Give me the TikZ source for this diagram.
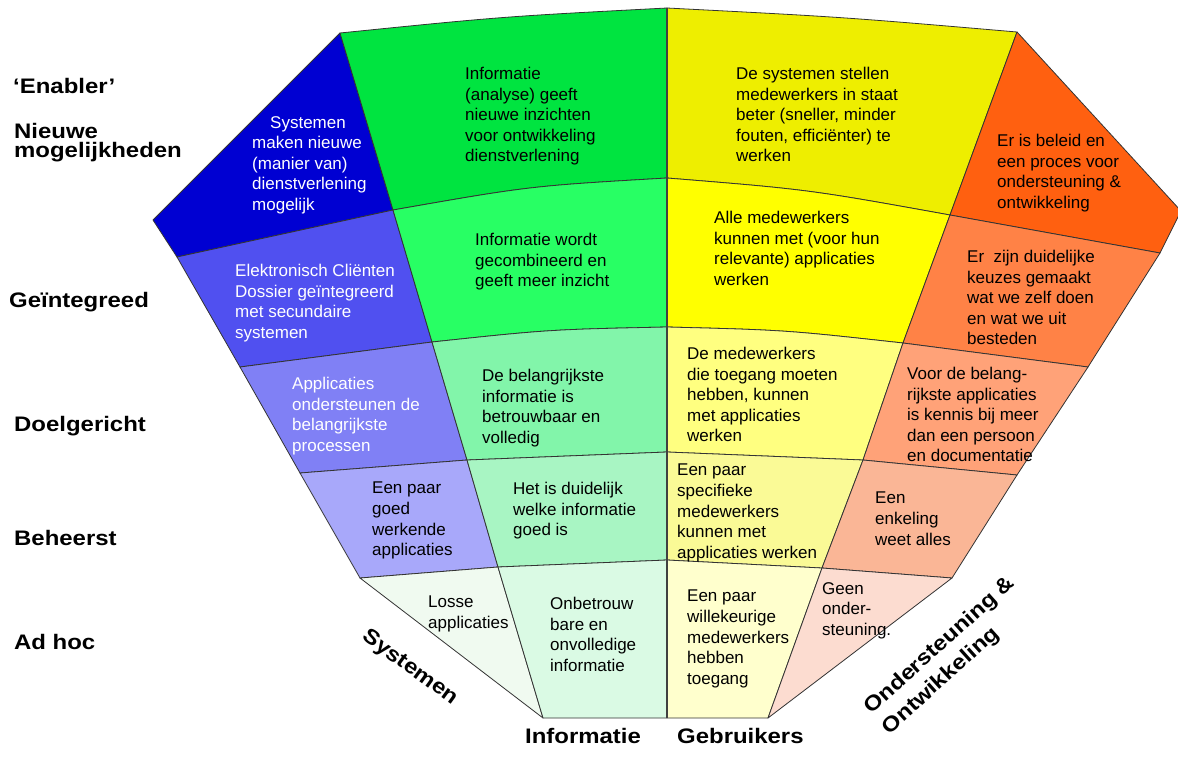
\documentclass[tikz,border=0pt]{standalone}
\usepackage{fontspec}
\setmainfont{Liberation Sans}
\newfontfamily\lblfont[FakeStretch=1.14]{Liberation Sans}
\usetikzlibrary{calc}
\definecolor{bA}{RGB}{0,0,210}
\definecolor{bB}{RGB}{80,80,240}
\definecolor{bC}{RGB}{128,128,245}
\definecolor{bD}{RGB}{168,168,250}
\definecolor{bE}{RGB}{240,250,240}
\definecolor{gA}{RGB}{0,228,64}
\definecolor{gB}{RGB}{40,255,100}
\definecolor{gC}{RGB}{130,245,170}
\definecolor{gD}{RGB}{168,245,195}
\definecolor{gE}{RGB}{218,250,228}
\definecolor{yA}{RGB}{238,238,0}
\definecolor{yB}{RGB}{255,255,0}
\definecolor{yC}{RGB}{255,255,128}
\definecolor{yD}{RGB}{250,250,150}
\definecolor{yE}{RGB}{255,255,205}
\definecolor{oA}{RGB}{255,96,16}
\definecolor{oB}{RGB}{255,130,70}
\definecolor{oC}{RGB}{255,162,120}
\definecolor{oD}{RGB}{250,182,150}
\definecolor{oE}{RGB}{252,220,208}
\begin{document}
\begin{tikzpicture}[x=1pt,y=-1pt,
  cell/.style={draw=black!80, line width=0.8pt, line join=round},
  txt/.style={anchor=north west, inner sep=0pt, align=left, font=\fontsize{17}{20.6}\selectfont},
  wtxt/.style={txt, text=white},
  lbl/.style={inner sep=0pt, font=\lblfont\bfseries\fontsize{21}{19.5}\selectfont},
]
\fill[white] (0,0) rectangle (1178,758);
\useasboundingbox (0,0) rectangle (1178,758);
% grid points
\coordinate (LT) at (153,220);
\coordinate (RT) at (1181,211);
\coordinate (P01) at (340,33);
\coordinate (P02) at (667,8);
\coordinate (P03) at (1017,32);
\coordinate (P10) at (177,257);
\coordinate (P11) at (393,210);
\coordinate (P12) at (667,178);
\coordinate (P13) at (950,215);
\coordinate (P14) at (1160,253);
\coordinate (P20) at (240,367);
\coordinate (P21) at (432,342);
\coordinate (P22) at (667,327);
\coordinate (P23) at (903,343);
\coordinate (P24) at (1088,367);
\coordinate (P30) at (300,473);
\coordinate (P31) at (467,460);
\coordinate (P32) at (667,452);
\coordinate (P33) at (863,460);
\coordinate (P34) at (1017,475);
\coordinate (P40) at (360,578);
\coordinate (P41) at (498,567);
\coordinate (P42) at (667,560);
\coordinate (P43) at (822,568);
\coordinate (P44) at (952,578);
\coordinate (P51) at (543,718);
\coordinate (P52) at (667,718);
\coordinate (P53) at (768,718);
% curve controls
\coordinate (K0a) at ($(P01)!0.5!(P02)+(0,-4)$);
\coordinate (K0b) at ($(P02)!0.5!(P03)+(0,-3)$);
\coordinate (K1a) at ($(P11)!0.5!(P12)+(0,-8)$);
\coordinate (K1b) at ($(P12)!0.5!(P13)+(0,-7)$);
\coordinate (K2a) at ($(P21)!0.5!(P22)+(0,-5)$);
\coordinate (K2b) at ($(P22)!0.5!(P23)+(0,-5)$);
% row 1
\filldraw[cell, fill=bA] (P01) -- (LT) -- (P10) -- (P11) -- cycle;
\filldraw[cell, fill=gA] (P01) .. controls (K0a) .. (P02) -- (P12) .. controls (K1a) .. (P11) -- cycle;
\filldraw[cell, fill=yA] (P02) .. controls (K0b) .. (P03) -- (P13) .. controls (K1b) .. (P12) -- cycle;
\filldraw[cell, fill=oA] (P03) -- (RT) -- (P14) -- (P13) -- cycle;
% row 2
\filldraw[cell, fill=bB] (P10) -- (P11) -- (P21) -- (P20) -- cycle;
\filldraw[cell, fill=gB] (P11) .. controls (K1a) .. (P12) -- (P22) .. controls (K2a) .. (P21) -- cycle;
\filldraw[cell, fill=yB] (P12) .. controls (K1b) .. (P13) -- (P23) .. controls (K2b) .. (P22) -- cycle;
\filldraw[cell, fill=oB] (P13) -- (P14) -- (P24) -- (P23) -- cycle;
% row 3
\filldraw[cell, fill=bC] (P20) -- (P21) -- (P31) -- (P30) -- cycle;
\filldraw[cell, fill=gC] (P21) .. controls (K2a) .. (P22) -- (P32) -- (P31) -- cycle;
\filldraw[cell, fill=yC] (P22) .. controls (K2b) .. (P23) -- (P33) -- (P32) -- cycle;
\filldraw[cell, fill=oC] (P23) -- (P24) -- (P34) -- (P33) -- cycle;
% row 4
\filldraw[cell, fill=bD] (P30) -- (P31) -- (P41) -- (P40) -- cycle;
\filldraw[cell, fill=gD] (P31) -- (P32) -- (P42) -- (P41) -- cycle;
\filldraw[cell, fill=yD] (P32) -- (P33) -- (P43) -- (P42) -- cycle;
\filldraw[cell, fill=oD] (P33) -- (P34) -- (P44) -- (P43) -- cycle;
% row 5
\filldraw[cell, fill=bE] (P40) -- (P41) -- (P51) -- cycle;
\filldraw[cell, fill=gE] (P41) -- (P42) -- (P52) -- (P51) -- cycle;
\filldraw[cell, fill=yE] (P42) -- (P43) -- (P53) -- (P52) -- cycle;
\filldraw[cell, fill=oE] (P43) -- (P44) -- (P53) -- cycle;
% central divider
\draw[black!75, line width=1.6pt] (P02) -- (P52);
% cell texts
\node[wtxt] (t11) at (252,116) {\hspace*{18pt}Systemen\\maken nieuwe\\(manier van)\\dienstverlening\\mogelijk};
\node[txt] (t12) at (465,67) {Informatie\\(analyse) geeft\\nieuwe inzichten\\voor ontwikkeling\\dienstverlening};
\node[txt] (t13) at (736,67) {De systemen stellen\\medewerkers in staat\\beter (sneller, minder\\fouten, efficiënter) te\\werken};
\node[txt] (t14) at (997,134) {Er is beleid en\\een proces voor\\ondersteuning \&\\ontwikkeling};
\node[wtxt] (t21) at (235,264) {Elektronisch Cliënten\\Dossier geïntegreerd\\met secundaire\\systemen};
\node[txt] (t22) at (475,233) {Informatie wordt\\gecombineerd en\\geeft meer inzicht};
\node[txt] (t23) at (714,211) {Alle medewerkers\\kunnen met (voor hun\\relevante) applicaties\\werken};
\node[txt] (t24) at (967,250) {Er\ \ zijn duidelijke\\keuzes gemaakt\\wat we zelf doen\\en wat we uit\\besteden};
\node[wtxt] (t31) at (292,377) {Applicaties\\ondersteunen de\\belangrijkste\\processen};
\node[txt] (t32) at (482,369) {De belangrijkste\\informatie is\\betrouwbaar en\\volledig};
\node[txt] (t33) at (687,347) {De medewerkers\\die toegang moeten\\hebben, kunnen\\met applicaties\\werken};
\node[txt] (t34) at (907,367) {Voor de belang-\\rijkste applicaties\\is kennis bij meer\\dan een persoon\\en documentatie};
\node[txt] (t41) at (372,482) {Een paar\\goed\\werkende\\applicaties};
\node[txt] (t42) at (513,482) {Het is duidelijk\\welke informatie\\goed is};
\node[txt] (t43) at (677,464) {Een paar\\specifieke\\medewerkers\\kunnen met\\applicaties werken};
\node[txt] (t44) at (875,492) {Een\\enkeling\\weet alles};
\node[txt] (t51) at (428,596) {Losse\\applicaties};
\node[txt] (t52) at (550,597) {Onbetrouw\\bare en\\onvolledige\\informatie};
\node[txt] (t53) at (687,590) {Een paar\\willekeurige\\medewerkers\\hebben\\toegang};
\node[txt] (t54) at (822,582) {Geen\\onder-\\steuning.};
% level labels
\node[lbl, anchor=base west] (enabler) at (13,93) {‘Enabler’};
\node[lbl, anchor=base west] (nieuwe) at (14,138) {Nieuwe};
\node[lbl, anchor=base west] (mogelijk) at (14,157) {mogelijkheden};
\node[lbl, anchor=base west] (geint) at (9,307) {Geïntegreed};
\node[lbl, anchor=base west] (doel) at (14,431) {Doelgericht};
\node[lbl, anchor=base west] (beheerst) at (14,545) {Beheerst};
\node[lbl, anchor=base west] (adhoc) at (14,649) {Ad hoc};
% column labels
\node[lbl, anchor=base west] (info) at (525,743) {Informatie};
\node[lbl, anchor=base west] (gebr) at (677,743) {Gebruikers};
\node[lbl, rotate=-36] (sys) at (410,668) {Systemen};
\node[lbl, rotate=42, align=left, font=\lblfont\bfseries\fontsize{21}{27}\selectfont] (ondw) at (949,656) {Ondersteuning \&\\Ontwikkeling};
\end{tikzpicture}
\end{document}
